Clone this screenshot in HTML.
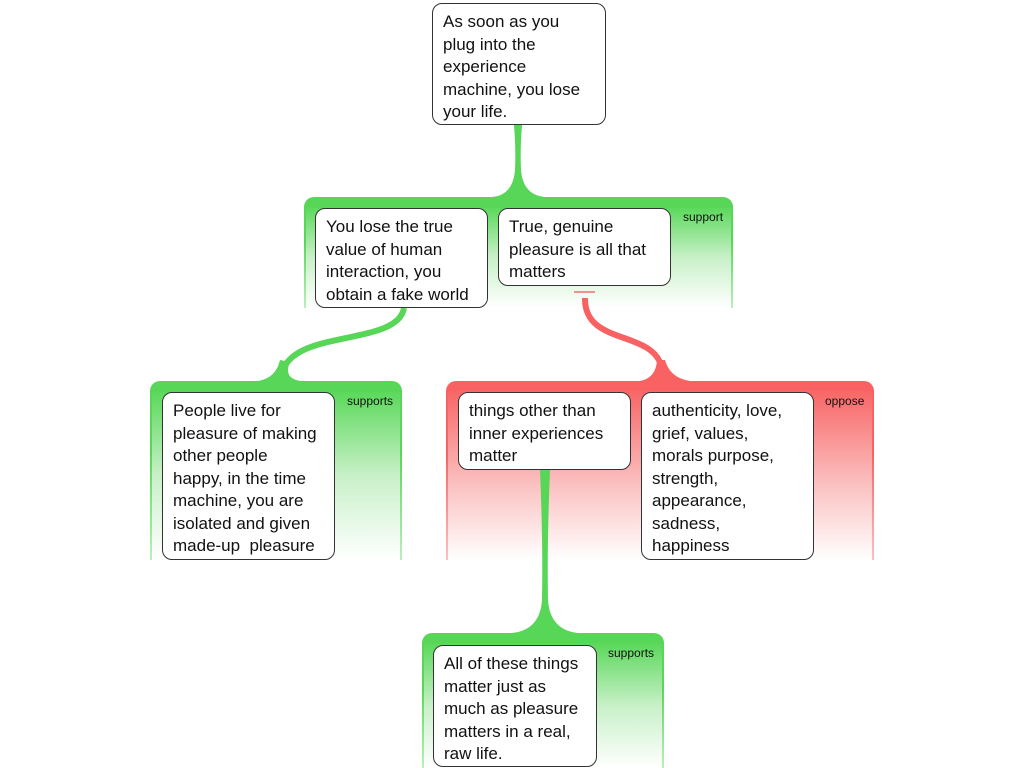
<!DOCTYPE html>
<html><head><meta charset="utf-8"><style>
body{margin:0;width:1024px;height:768px;background:#fff;position:relative;overflow:hidden;font-family:"Liberation Sans",sans-serif}
.g{position:absolute;border-radius:10px 10px 0 0}
.g .in{position:absolute;left:2px;right:2px;top:10px;bottom:0}
.gr{background:linear-gradient(#57d657 0%,#57d657 40%,rgba(87,214,87,0.4) 100%)}
.gr .in{background:linear-gradient(#5ad85a 0%,#c8f0c8 50%,#fff 100%)}
.rd{background:linear-gradient(#f86262 0%,#f86262 40%,rgba(248,98,98,0.4) 100%)}
.rd .in{background:linear-gradient(#f86666 0%,#fbc0c0 55%,#fff 100%)}
.lab{position:absolute;font-size:12px;color:#111}
.b{position:absolute;background:#fff;border:1px solid #333;border-radius:10px;box-sizing:border-box;padding:7px 13px 7px 10px;font-size:17px;line-height:22.5px;color:#111}
</style></head><body>
<div class="g gr" style="left:304px;top:197px;width:429px;height:111px"><div class="in"></div></div>
<div class="g gr" style="left:150px;top:381px;width:252px;height:179px"><div class="in"></div></div>
<div class="g rd" style="left:446px;top:381px;width:428px;height:179px"><div class="in"></div></div>
<div class="g gr" style="left:422px;top:633px;width:242px;height:135px"><div class="in"></div></div>
<svg style="position:absolute;left:0;top:0" width="1024" height="768">
<path d="M514,125 L522,125 Q520,150 521,170 Q523,195 545,197 L492,197 Q513,195 515,170 Q516,150 514,125 Z" fill="#57d657"/>
<path d="M540,470 L550,470 Q547,540 548,600 Q550,630 578,633 L512,633 Q540,630 542,600 Q543,540 540,470 Z" fill="#57d657"/>
<path d="M404,308 C398,345 300,330 284,368" stroke="#57d657" stroke-width="6" fill="none"/>
<path d="M258,381 Q276,378 280,360 L290,362 Q283,378 300,381 Z" fill="#57d657"/>
<path d="M585,298 C584,345 650,330 661,365" stroke="#f86262" stroke-width="6" fill="none"/>
<path d="M640,381 Q656,378 657,360 L665,360 Q670,378 690,381 Z" fill="#f86262"/>
<rect x="574" y="291" width="21" height="2" fill="#f59090"/>
</svg>
<div class="lab" style="left:683px;top:210px">support</div>
<div class="lab" style="left:347px;top:394px">supports</div>
<div class="lab" style="left:825px;top:394px">oppose</div>
<div class="lab" style="left:608px;top:646px">supports</div>
<div class="b" style="left:432px;top:3px;width:174px;height:122px">As soon as you plug into the experience machine, you lose your life.</div>
<div class="b" style="left:315px;top:208px;width:173px;height:100px">You lose the true value of human interaction, you obtain a fake world</div>
<div class="b" style="left:498px;top:208px;width:173px;height:78px">True, genuine pleasure is all that matters</div>
<div class="b" style="left:162px;top:392px;width:173px;height:168px">People live for pleasure of making other people happy, in the time machine, you are isolated and given made-up&nbsp; pleasure</div>
<div class="b" style="left:458px;top:392px;width:173px;height:78px">things other than inner experiences matter</div>
<div class="b" style="left:641px;top:392px;width:173px;height:168px">authenticity, love, grief, values, morals purpose, strength, appearance, sadness, happiness</div>
<div class="b" style="left:433px;top:645px;width:164px;height:122px">All of these things matter just as much as pleasure matters in a real, raw life.</div>
</body></html>
